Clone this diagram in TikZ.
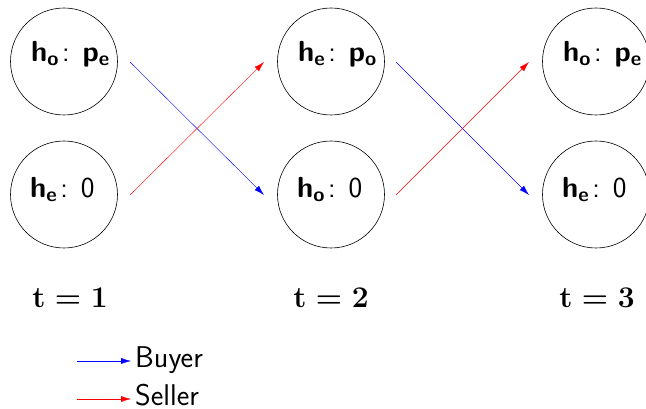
\RequirePackage{fix-cm}
\documentclass[tikz,border=0pt]{standalone}
\usetikzlibrary{arrows.meta}
\begin{document}
\begin{tikzpicture}[x=1pt,y=-1pt,
  state/.style={draw,circle,line width=0.6pt,minimum size=107pt,inner sep=0pt},
  stext/.style={anchor=base west,inner sep=0pt,font=\fontsize{29}{34}\selectfont\sffamily},
  tlabel/.style={anchor=base,inner sep=0pt,font=\fontsize{30}{34}\selectfont\boldmath},
  buyer/.style={blue,-{Latex[length=10pt,width=6pt]}},
  seller/.style={red,-{Latex[length=10pt,width=6pt]}},
  legtext/.style={anchor=base west,inner sep=0pt,font=\fontsize{30}{34}\selectfont\sffamily}]
\newcommand{\bsf}[1]{{\boldmath$\mathsf{#1}$}}
\newcommand{\sep}{\hspace{3pt}:\hspace{13pt}}
\useasboundingbox (0,0) rectangle (646,409);
\node[state] (a1) at (64,61.5) {};
\node[state] (b1) at (64,194.5) {};
\node[state] (a2) at (331,61.5) {};
\node[state] (b2) at (331,194.5) {};
\node[state] (a3) at (596,61.5) {};
\node[state] (b3) at (596,194.5) {};
\node[stext] (la1) at ([shift={(-33,0)}]a1.center) {\bsf{h_o}\sep\bsf{p_e}};
\node[stext] (lb1) at ([shift={(-34,3)}]b1.center) {\bsf{h_e}\sep0};
\node[stext] (la2) at ([shift={(-33,0)}]a2.center) {\bsf{h_e}\sep\bsf{p_o}};
\node[stext] (lb2) at ([shift={(-34,3)}]b2.center) {\bsf{h_o}\sep0};
\node[stext] (la3) at ([shift={(-33,0)}]a3.center) {\bsf{h_o}\sep\bsf{p_e}};
\node[stext] (lb3) at ([shift={(-34,3)}]b3.center) {\bsf{h_e}\sep0};
\node[tlabel] (t1) at (70,307) {$\mathbf{t=1}$};
\node[tlabel] (t2) at (331,307) {$\mathbf{t=2}$};
\node[tlabel] (t3) at (597,307) {$\mathbf{t=3}$};
\coordinate (s1) at (130,62); \coordinate (e1) at (264,195);
\coordinate (s2) at (130,195); \coordinate (e2) at (264,62);
\coordinate (s3) at (396,62); \coordinate (e3) at (529,195);
\coordinate (s4) at (396,195); \coordinate (e4) at (529,62);
\draw[buyer] (s1) -- (e1);
\draw[seller] (s2) -- (e2);
\draw[buyer] (s3) -- (e3);
\draw[seller] (s4) -- (e4);
\node[legtext] (lb) at (135,367) {Buyer};
\node[legtext] (ls) at (135,405) {Seller};
\coordinate (lb0) at (77,361); \coordinate (lb1) at (131,361);
\coordinate (ls0) at (77,399); \coordinate (ls1) at (131,399);
\draw[buyer] (lb0) -- (lb1);
\draw[seller] (ls0) -- (ls1);
\end{tikzpicture}
\end{document}
